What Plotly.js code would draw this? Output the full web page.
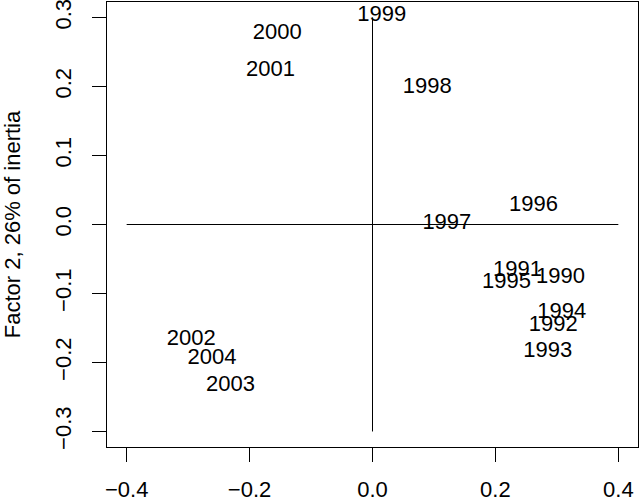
<!DOCTYPE html>
<html>
<head>
<meta charset="utf-8">
<script src="https://cdn.plot.ly/plotly-3.0.1.min.js"></script>
<style>
  html, body { margin: 0; padding: 0; background: #fff; }
  #chart { width: 640px; height: 499px; }
</style>
</head>
<body>
<div id="chart"></div>
<script>
// Year labels with their coordinates on the first two factors.
const years = ["1990", "1991", "1992", "1993", "1994", "1995", "1996", "1997",
  "1998", "1999", "2000", "2001", "2002", "2003", "2004"];
const factor1 = [0.306, 0.236, 0.294, 0.285, 0.308, 0.218, 0.262, 0.121,
  0.089, 0.015, -0.155, -0.166, -0.295, -0.231, -0.261];
const factor2 = [-0.077, -0.067, -0.147, -0.184, -0.128, -0.084, 0.027, 0.002,
  0.199, 0.303, 0.277, 0.223, -0.167, -0.234, -0.194];

// Reference cross through the origin.
const hLineX = [-0.4, 0.4];
const hLineY = [0, 0];
const vLineX = [0, 0];
const vLineY = [-0.3, 0.3];

const xTicks = [-0.4, -0.2, 0.0, 0.2, 0.4];
const yTicks = [-0.3, -0.2, -0.1, 0.0, 0.1, 0.2, 0.3];

const FONT = "Liberation Sans, Arial, Helvetica, sans-serif";

const lineStyle = { color: "#000", width: 1 };

const traces = [
  { x: hLineX, y: hLineY, mode: "lines", line: lineStyle, hoverinfo: "skip" },
  { x: vLineX, y: vLineY, mode: "lines", line: lineStyle, hoverinfo: "skip" },
  {
    x: factor1,
    y: factor2,
    text: years,
    mode: "text",
    textposition: "middle center",
    textfont: { family: FONT, size: 22, color: "#000" },
    cliponaxis: false,
    hoverinfo: "text",
  },
];

const axisCommon = {
  showgrid: false,
  zeroline: false,
  showline: true,
  mirror: true,
  linecolor: "#000",
  linewidth: 1,
  ticks: "outside",
  ticklen: 14,
  tickwidth: 1,
  tickcolor: "#000",
  tickfont: { family: FONT, size: 22, color: "#000" },
  ticklabeloverflow: "allow",
  automargin: false,
};

const layout = {
  width: 640,
  height: 499,
  showlegend: false,
  paper_bgcolor: "#fff",
  plot_bgcolor: "#fff",
  margin: { l: 107, r: 2, t: 2, b: 52 },
  font: { family: FONT, color: "#000" },
  xaxis: {
    ...axisCommon,
    range: [-0.432, 0.432],
    tickvals: xTicks,
    tickformat: ".1f",
    ticklabelstandoff: 9,
  },
  yaxis: {
    ...axisCommon,
    range: [-0.3225, 0.3225],
    tickvals: yTicks,
    tickformat: ".1f",
    tickangle: -90,
    ticklabelstandoff: 12,
    title: {
      text: "Factor 2, 26% of inertia",
      font: { family: FONT, size: 22, color: "#000" },
      standoff: 24,
    },
  },
};

Plotly.newPlot("chart", traces, layout, { staticPlot: true });
</script>
</body>
</html>
